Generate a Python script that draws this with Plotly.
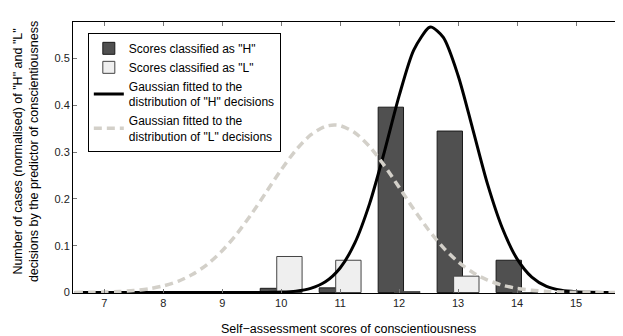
import plotly.graph_objects as go

# Histogram data (normalised counts)
scores = [7, 8, 9, 10, 11, 12, 13, 14, 15]
h_values = [0.0, 0.0, 0.0, 0.009, 0.010, 0.396, 0.345, 0.069, 0.0]
l_values = [0.0, 0.0, 0.0, 0.077, 0.069, 0.002, 0.035, 0.0, 0.0]

# Fitted Gaussian curves
h_curve_x = [6.5, 7.0, 8.0, 9.0, 9.5, 9.75, 10.0, 10.25, 10.5, 10.75, 11.0, 11.25, 11.5, 11.75,
             12.0, 12.25, 12.5, 12.55, 12.75, 13.0, 13.25, 13.5, 13.75, 14.0, 14.25, 14.5,
             14.75, 15.0, 15.25, 15.5, 15.8]
h_curve_y = [0.0, 0.0, 0.0, 0.0, 0.0, 0.0002, 0.0009, 0.0030, 0.0088, 0.0228, 0.0523, 0.1061,
             0.1900, 0.3005, 0.420, 0.5186, 0.5656, 0.567, 0.545, 0.4638, 0.3487, 0.2317,
             0.1380, 0.0720, 0.0330, 0.0131, 0.0047, 0.0015, 0.0004, 0.0001, 0.0]

l_curve_x = [6.5, 6.75, 7.0, 7.25, 7.5, 7.75, 8.0, 8.25, 8.5, 8.75, 9.0, 9.25, 9.5, 9.75, 10.0,
             10.25, 10.5, 10.75, 10.9, 11.0, 11.25, 11.5, 11.75, 12.0, 12.25, 12.5, 12.75, 13.0,
             13.25, 13.5, 13.75, 14.0, 14.25, 14.5, 14.75, 15.0, 15.25, 15.5, 15.8]
l_curve_y = [0.0002, 0.0005, 0.0010, 0.0021, 0.0042, 0.0079, 0.0141, 0.0240, 0.0390, 0.0605,
             0.0893, 0.1256, 0.1684, 0.2152, 0.2622, 0.3043, 0.3366, 0.3549, 0.358, 0.3566,
             0.3415, 0.3117, 0.2711, 0.2248, 0.1776, 0.1337, 0.0959, 0.0656, 0.0428, 0.0266,
             0.0157, 0.0089, 0.0048, 0.0024, 0.0012, 0.0006, 0.0003, 0.0001, 0.0]

x_ticks = [7, 8, 9, 10, 11, 12, 13, 14, 15]
y_ticks = [0, 0.1, 0.2, 0.3, 0.4, 0.5]
y_tick_labels = ["0", "0.1", "0.2", "0.3", "0.4", "0.5"]

FONT = "Liberation Sans, Arial, sans-serif"

fig = go.Figure()
fig.add_trace(go.Bar(
    x=scores, y=h_values, width=0.43, offset=-0.355,
    marker=dict(color="#505050", line=dict(color="#1a1a1a", width=1)),
    name='Scores classified as "H"',
))
fig.add_trace(go.Bar(
    x=scores, y=l_values, width=0.43, offset=-0.075,
    marker=dict(color="#efefef", line=dict(color="#444444", width=1)),
    name='Scores classified as "L"',
))
fig.add_trace(go.Scatter(
    x=h_curve_x, y=h_curve_y, mode="lines",
    line=dict(color="black", width=3, shape="spline", smoothing=0.8),
    name='Gaussian fitted to the<br>distribution of "H" decisions',
))
fig.add_trace(go.Scatter(
    x=l_curve_x, y=l_curve_y, mode="lines",
    line=dict(color="#d3d0c9", width=3.5, dash="8px,5px", shape="spline", smoothing=0.8),
    name='Gaussian fitted to the<br>distribution of "L" decisions',
))

axis_common = dict(
    showgrid=False, zeroline=False, showline=True, linecolor="black", linewidth=1,
    mirror="ticks", ticks="inside", ticklen=4, tickcolor="#777777",
    tickfont=dict(family=FONT, size=11, color="#222222"),
)

# The page body has an 8px default margin, so the figure is sized to fit the window.
fig.update_layout(
    width=615, height=328,
    margin=dict(l=65, r=1, t=14, b=43, autoexpand=False),
    plot_bgcolor="white", paper_bgcolor="white",
    barmode="overlay", showlegend=True,
    font=dict(family=FONT, color="black"),
    xaxis=dict(range=[6.47, 15.78], tickvals=x_ticks, **axis_common),
    yaxis=dict(range=[-0.001, 0.578], tickvals=y_ticks, ticktext=y_tick_labels, **axis_common),
    legend=dict(
        x=0.027, y=0.96, xanchor="left", yanchor="top",
        bgcolor="white", bordercolor="black", borderwidth=1,
        font=dict(family=FONT, size=12, color="black"),
        tracegroupgap=0, itemwidth=30,
    ),
    annotations=[
        dict(text='Number of cases (normalised) of "H" and "L"<br>decisions by the predictor of conscientiousness',
             xref="paper", yref="paper", x=-0.0856, y=0.52, textangle=-90,
             showarrow=False, xanchor="center", yanchor="middle",
             font=dict(family=FONT, size=12.5, color="black")),
        dict(text="Self\u2212assessment scores of conscientiousness",
             xref="paper", yref="paper", x=0.501, y=-0.133,
             showarrow=False, xanchor="center", yanchor="middle",
             font=dict(family=FONT, size=12.5, color="black")),
    ],
)

fig.write_html("out.html")
